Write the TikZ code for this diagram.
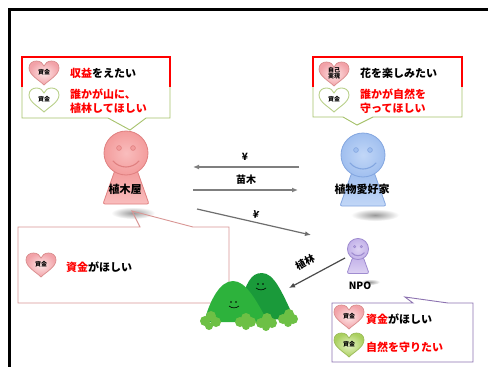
\documentclass[tikz,border=0pt]{standalone}
\usepackage{fontspec}
\setmainfont{Noto Sans CJK JP}
\usetikzlibrary{arrows.meta}

\definecolor{calloutred}{HTML}{FF0000}
\definecolor{calloutgreen}{HTML}{A6C26B}
\definecolor{calloutrose}{HTML}{D99694}
\definecolor{calloutpurple}{HTML}{8C72B0}
\definecolor{arrowgray}{HTML}{7F7F7F}
\definecolor{arrowdark}{HTML}{4A4A4A}
\definecolor{heartpinkin}{HTML}{FDE6E6}
\definecolor{heartpinkout}{HTML}{F2A2A8}
\definecolor{heartpinkline}{HTML}{D98C8C}
\definecolor{heartgreenin}{HTML}{E6F3C4}
\definecolor{heartgreenout}{HTML}{A9CF5E}
\definecolor{heartgreenline}{HTML}{9BBB59}
\definecolor{heartwhiteline}{HTML}{B9D08A}
\definecolor{pinklight}{HTML}{F9BDBD}
\definecolor{pinkmain}{HTML}{F39C9C}
\definecolor{pinkline}{HTML}{E08080}
\definecolor{bluelight}{HTML}{C2D7F7}
\definecolor{bluemain}{HTML}{A0BFEF}
\definecolor{blueline}{HTML}{83A6E0}
\definecolor{purplelight}{HTML}{DDD2F3}
\definecolor{purplemain}{HTML}{C3B2E9}
\definecolor{purpleline}{HTML}{9F8CD0}
\definecolor{hillfront}{HTML}{2DB23C}
\definecolor{hillback}{HTML}{1A9A3A}
\definecolor{bush}{HTML}{6DC045}

\tikzset{
  pics/heart/.style={code={
    \path[#1] (0,12) .. controls (-5,7) and (-15,2) .. (-15,-5)
      .. controls (-15,-10) and (-11,-12) .. (-7.5,-12)
      .. controls (-3.5,-12) and (-1,-9.5) .. (0,-7)
      .. controls (1,-9.5) and (3.5,-12) .. (7.5,-12)
      .. controls (11,-12) and (15,-10) .. (15,-5)
      .. controls (15,2) and (5,7) .. (0,12) -- cycle;
  }},
  pinkheart/.style={draw=heartpinkline, line width=0.7pt, inner color=heartpinkin, outer color=heartpinkout},
  greenheart/.style={draw=heartgreenline, line width=0.7pt, inner color=heartgreenin, outer color=heartgreenout},
  whiteheart/.style={draw=heartwhiteline, line width=0.9pt, fill=white},
  pics/person/.style n args={3}{code={
    \path[draw=#3, line width=0.8pt, top color=#2, bottom color=#1, rounded corners=2pt]
      (-11,17) -- (11,17) -- (23,51) -- (-23,51) -- cycle;
    \path[draw=#3, line width=0.8pt, inner color=#1, outer color=#2] (0,0) circle[radius=22];
    \path[draw=#3, line width=0.6pt, fill=#2] (-7,-5) circle[radius=2.4] (7,-5) circle[radius=2.4];
    \draw[#3, line width=1.1pt, line cap=round] (-13,8) .. controls (-6,16) and (6,16) .. (13,8);
  }},
  hlabel/.style={font=\fontsize{6}{6.5}\selectfont\bfseries, inner sep=0pt, align=center},
  txt/.style={font=\fontsize{11}{14}\selectfont\bfseries, inner sep=0pt, anchor=west, align=left},
  who/.style={font=\fontsize{11}{12}\selectfont\bfseries, inner sep=0pt},
  flowlabel/.style={font=\fontsize{10}{11}\selectfont\bfseries, inner sep=0pt},
  flow/.style={draw=arrowgray, line width=1.2pt, -{Latex[length=6pt,width=5pt]}},
  shadowblob/.style={inner color=black!40, outer color=white},
}

\begin{document}
\begin{tikzpicture}[x=1pt,y=-1pt]
  \useasboundingbox (0,0) rectangle (488,367);
  \fill[white] (0,0) rectangle (488,367);

  % outer frame
  \draw[line width=3pt] (9.5,367) -- (9.5,9.5) -- (488,9.5);

  % ground shadows
  \shade[shadowblob] (133,213) ellipse[x radius=22, y radius=6];
  \shade[shadowblob] (375,215) ellipse[x radius=24, y radius=6];
  \shade[shadowblob] (370,282) ellipse[x radius=10, y radius=3];

  % callout of the gardener (top left)
  \draw[calloutgreen, line width=0.9pt] (22,87) -- (22,118) -- (108,118) -- (130,130) -- (146,118) -- (170,118) -- (170,87);
  \draw[calloutred, line width=2pt] (22,87) -- (22,57) -- (170,57) -- (170,87);
  \pic at (44,73) {heart=pinkheart};
  \node[hlabel] (hl1) at (44,72) {資金};
  \pic at (44,100) {heart=whiteheart};
  \node[hlabel] (hl2) at (44,99) {資金};
  \node[txt] (t1) at (70,73) {{\color{calloutred}収益}をえたい};
  \node[txt, text=calloutred] (t2) at (70,101) {誰かが山に、\\植林してほしい};

  % callout of the plant lover (top right)
  \draw[calloutgreen, line width=0.9pt] (313,87) -- (313,117) -- (343,117) -- (357,125) -- (373,117) -- (462,117) -- (462,87);
  \draw[calloutred, line width=2pt] (313,87) -- (313,57) -- (462,57) -- (462,87);
  \pic at (334,74) {heart=pinkheart};
  \node[hlabel] (hr1) at (334,73) {自己\\実現};
  \pic at (334,100) {heart=whiteheart};
  \node[hlabel] (hr2) at (334,99) {資金};
  \node[txt] (t3) at (360,73) {花を楽しみたい};
  \node[txt, text=calloutred] (t4) at (360,101) {誰かが自然を\\守ってほしい};

  % callout of the gardener's need (bottom left)
  \draw[calloutrose, line width=0.9pt] (140,227) -- (132,211) -- (193,227) -- (229,227) -- (229,303) -- (18,303) -- (18,227) -- cycle;
  \pic at (41,265) {heart=pinkheart};
  \node[hlabel] (hb1) at (41,264) {資金};
  \node[txt] (t5) at (66,267) {{\color{calloutred}資金}がほしい};

  % callout of the NPO (bottom right)
  \draw[calloutpurple, line width=0.9pt] (413,303) -- (405,297) -- (448,303) -- (473,303) -- (473,362) -- (332,362) -- (332,303) -- cycle;
  \pic at (349,317) {heart=pinkheart};
  \node[hlabel] (hn1) at (349,316) {資金};
  \pic at (349,345) {heart=greenheart};
  \node[hlabel] (hn2) at (349,344) {資金};
  \node[txt] (t6) at (366,319) {{\color{calloutred}資金}がほしい};
  \node[txt, text=calloutred] (t7) at (366,347) {自然を守りたい};

  % people
  \pic (gardener) at (126,153) {person={pinklight}{pinkmain}{pinkline}};
  \node[who] (uekiya) at (125,189) {植木屋};
  \pic (lover) at (363,155) {person={bluelight}{bluemain}{blueline}};
  \node[who] (aikouka) at (362,189) {植物愛好家};
  \pic[scale=0.48] (npofig) at (358,249) {person={purplelight}{purplemain}{purpleline}};
  \node[font=\fontsize{10}{11}\selectfont\bfseries, inner sep=0pt] (npo) at (360,286) {NPO};

  % hills with bushes
  \fill[hillback] (240,302) .. controls (247,284) and (250,273) .. (262,273)
    .. controls (274,273) and (282,292) .. (294,318) -- (245,322) -- cycle;
  \fill[hillfront] (204,322) .. controls (210,300) and (220,281) .. (233,281)
    .. controls (246,281) and (256,300) .. (268,322) -- cycle;
  \fill[bush] (205,321) circle[radius=5] (211,316) circle[radius=5] (216,322) circle[radius=5] (209,326) circle[radius=4]
              (240,322) circle[radius=5] (246,318) circle[radius=5] (251,322) circle[radius=5] (246,326) circle[radius=4]
              (261,323) circle[radius=5] (267,318) circle[radius=5] (272,323) circle[radius=5] (266,327) circle[radius=4]
              (283,319) circle[radius=5] (289,314) circle[radius=5] (293,319) circle[radius=5] (288,323) circle[radius=4];
  \fill[black] (231,302) circle[radius=0.9] (236,302) circle[radius=0.9]
               (258,284) circle[radius=0.9] (263,284) circle[radius=0.9];
  \draw[black, line width=0.6pt] (229,306) .. controls (232,308.5) and (236,308.5) .. (239,306);
  \draw[black, line width=0.6pt] (256,288) .. controls (259,290.5) and (263,290.5) .. (266,288);

  % flows between the parties
  \coordinate (yenFrom) at (299,167);
  \coordinate (yenTo) at (193,167);
  \coordinate (seedFrom) at (193,190);
  \coordinate (seedTo) at (298,190);
  \coordinate (payFrom) at (197,209);
  \coordinate (payTo) at (311,235);
  \coordinate (plantFrom) at (345,258);
  \coordinate (plantTo) at (289,288);
  \draw[flow] (yenFrom) -- (yenTo);
  \draw[flow] (seedFrom) -- (seedTo);
  \draw[flow, draw=arrowdark!80] (payFrom) -- (payTo);
  \draw[flow, draw=arrowdark] (plantFrom) -- (plantTo);
  \node[flowlabel] (yen1) at (245,157) {¥};
  \node[flowlabel] (seedling) at (246,180) {苗木};
  \node[flowlabel, rotate=-13] (yen2) at (256,215) {¥};
  \node[flowlabel, rotate=28] (afforest) at (305,262) {植林};
\end{tikzpicture}
\end{document}
